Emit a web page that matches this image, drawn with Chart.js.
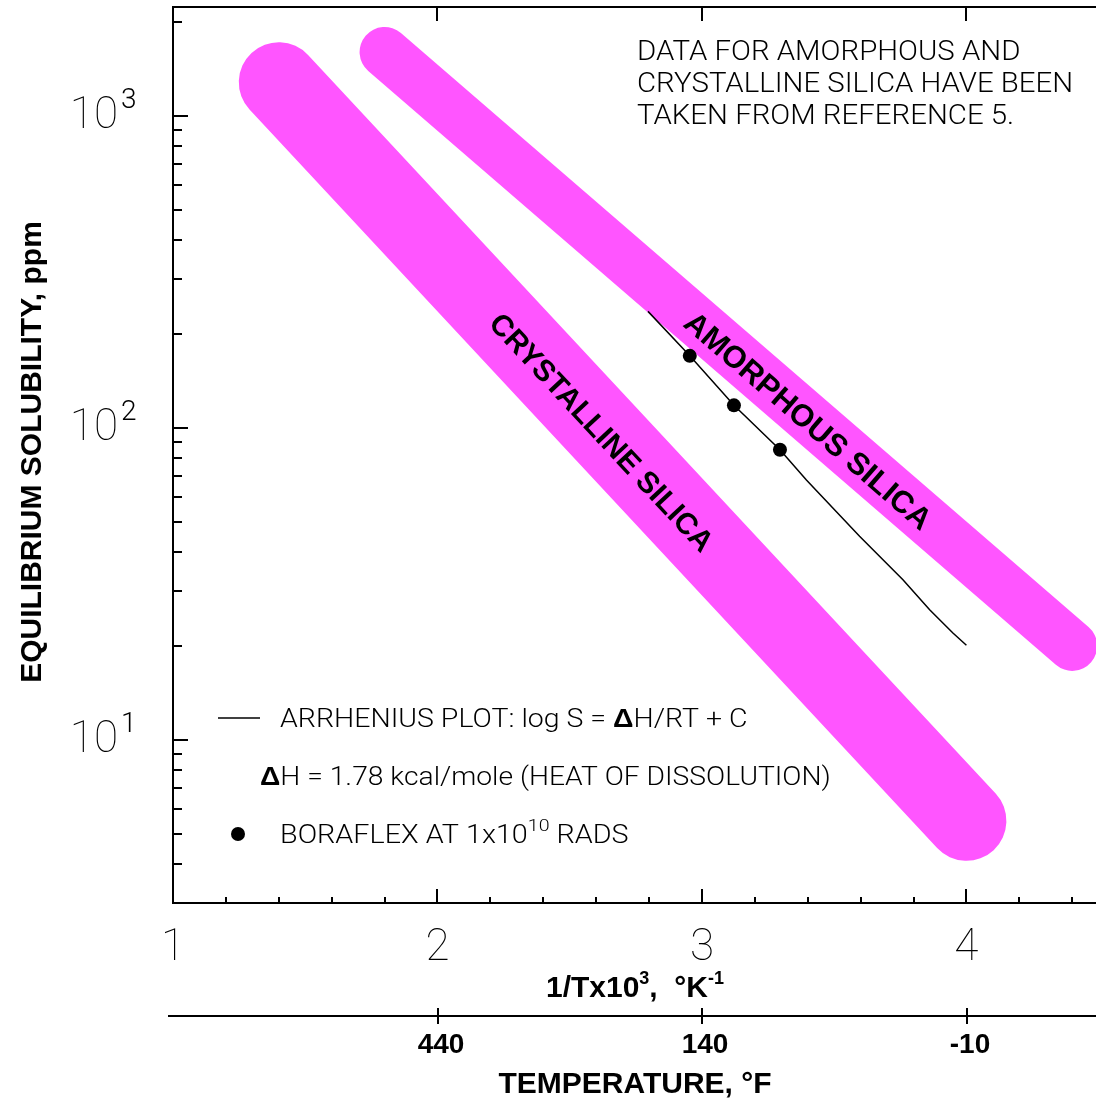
<!DOCTYPE html>
<html>
<head>
<meta charset="utf-8">
<script src="https://cdn.jsdelivr.net/npm/chart.js@4"></script>
<style>
  html, body { margin: 0; padding: 0; background: #fff; overflow: hidden; }
  #wrap { width: 1096px; height: 1099px; }
</style>
</head>
<body>
<div id="wrap"><canvas id="silicaChart" width="1096" height="1099"></canvas></div>
<script>
// Solubility bands, 1/T x 10^3 vs ppm (end points)
const crystallineX = [1.4, 4.0];
const crystallineY = [1280, 5.5];
const amorphousX = [1.8, 4.4];
const amorphousY = [1600, 20];

// Arrhenius line through the Boraflex data (hand drawn, slightly wavy)
const arrheniusX = [2.796, 2.954, 3.121, 3.295, 3.395, 3.596, 3.760, 3.861, 3.949, 4.0];
const arrheniusY = [236, 170, 118, 85, 68, 44.9, 32.6, 26.1, 22.0, 20.1];

// Boraflex measurements
const boraflexX = [2.954, 3.121, 3.295];
const boraflexY = [170, 118, 85];

// Axis ticks
const xMajorTicks = [1, 2, 3, 4];
const xMinorTicks = [1.2, 1.4, 1.6, 1.8, 2.2, 2.4, 2.6, 2.8, 3.2, 3.4, 3.6, 3.8, 4.2, 4.4];
const yMajorTicks = [10, 100, 1000];
const yMajorExponents = ['1', '2', '3'];
const yMinorTicks = [3, 4, 5, 6, 7, 8, 9, 20, 30, 40, 50, 60, 70, 80, 90,
    200, 300, 400, 500, 600, 700, 800, 900, 2000];
const tempTicksF = [440, 140, -10];

const BAND_COLOR = '#FF55FF';
const THIN = 'Roboto';
const BOLD = '"Liberation Sans", Arial, sans-serif';

function toPoints(xs, ys) {
    return xs.map((x, i) => ({ x: x, y: ys[i] }));
}

// degrees F -> 1/T x 10^3 (T in Kelvin)
function fahrenheitToInvK(f) {
    return 1000 / ((f - 32) * 5 / 9 + 273.15);
}

function line(ctx, x1, y1, x2, y2) {
    ctx.beginPath();
    ctx.moveTo(x1, y1);
    ctx.lineTo(x2, y2);
    ctx.stroke();
}

// draw a list of text runs one after another: {text, font, dy}
// sx stretches the text sideways (the original lettering is wide)
function drawRuns(ctx, runs, x, baseline, sx) {
    sx = sx || 1;
    ctx.save();
    ctx.translate(x, baseline);
    ctx.scale(sx, 1);
    ctx.textAlign = 'left';
    ctx.textBaseline = 'alphabetic';
    let cur = 0;
    runs.forEach(r => {
        ctx.font = r.font;
        ctx.fillText(r.text, cur, r.dy || 0);
        cur += ctx.measureText(r.text).width;
    });
    ctx.restore();
    return x + cur * sx;
}

function runsWidth(ctx, runs) {
    let w = 0;
    runs.forEach(r => { ctx.font = r.font; w += ctx.measureText(r.text).width; });
    return w;
}

// text rotated along a band, at fraction t between its two end points
function bandLabel(ctx, xs, ys, chart, text, t, offset, size) {
    const xScale = chart.scales.x, yScale = chart.scales.y;
    const x1 = xScale.getPixelForValue(xs[0]), y1 = yScale.getPixelForValue(ys[0]);
    const x2 = xScale.getPixelForValue(xs[1]), y2 = yScale.getPixelForValue(ys[1]);
    const ang = Math.atan2(y2 - y1, x2 - x1);
    const cx = x1 + (x2 - x1) * t - Math.sin(ang) * offset;
    const cy = y1 + (y2 - y1) * t + Math.cos(ang) * offset;
    ctx.save();
    ctx.translate(cx, cy);
    ctx.rotate(ang);
    ctx.font = 'bold ' + size + 'px ' + BOLD;
    ctx.textAlign = 'center';
    ctx.textBaseline = 'middle';
    ctx.fillStyle = '#000';
    ctx.fillText(text, 0, 0);
    ctx.restore();
}

const paperAxes = {
    id: 'paperAxes',
    afterDatasetsDraw(chart) {
        const ctx = chart.ctx;
        const area = chart.chartArea;
        const xScale = chart.scales.x;
        const yScale = chart.scales.y;

        ctx.save();
        ctx.strokeStyle = '#000';
        ctx.fillStyle = '#000';
        ctx.lineWidth = 2;

        // frame: left, top, bottom (no right edge)
        line(ctx, area.left, area.top, area.left, area.bottom);
        line(ctx, area.left - 1, area.top, area.right, area.top);
        line(ctx, area.left - 1, area.bottom, area.right, area.bottom);

        // y ticks point inwards
        yMajorTicks.forEach(v => {
            const y = Math.round(yScale.getPixelForValue(v));
            line(ctx, area.left, y, area.left + 15, y);
        });
        yMinorTicks.forEach(v => {
            const y = Math.round(yScale.getPixelForValue(v));
            line(ctx, area.left, y, area.left + 9, y);
        });

        // x ticks on the bottom and majors on the top
        xMajorTicks.forEach(v => {
            const x = Math.round(xScale.getPixelForValue(v));
            line(ctx, x, area.bottom, x, area.bottom - 14);
            line(ctx, x, area.top, x, area.top + 14);
        });
        xMinorTicks.forEach(v => {
            const x = Math.round(xScale.getPixelForValue(v));
            line(ctx, x, area.bottom, x, area.bottom - 6);
        });

        // y tick labels 10^n
        yMajorTicks.forEach((v, i) => {
            const y = yScale.getPixelForValue(v);
            ctx.font = '100 44px ' + THIN;
            ctx.textAlign = 'right';
            ctx.textBaseline = 'alphabetic';
            ctx.fillText('10', 118, y + 12);
            ctx.font = '300 28px ' + THIN;
            ctx.textAlign = 'left';
            ctx.fillText(yMajorExponents[i], 121, y - 8);
        });

        // x tick labels
        ctx.font = '100 44px ' + THIN;
        ctx.textAlign = 'center';
        xMajorTicks.forEach(v => {
            ctx.fillText(String(v), xScale.getPixelForValue(v), 960);
        });

        // x axis title
        const xTitle = [
            { text: '1/Tx10', font: 'bold 30px ' + BOLD },
            { text: '3', font: 'bold 18px ' + BOLD, dy: -13 },
            { text: ',  \u00B0K', font: 'bold 30px ' + BOLD },
            { text: '-1', font: 'bold 18px ' + BOLD, dy: -13 }
        ];
        drawRuns(ctx, xTitle, 635 - runsWidth(ctx, xTitle) / 2, 997);

        // second axis: temperature in F
        const axisY = 1016;
        line(ctx, 168, axisY, area.right, axisY);
        ctx.font = 'bold 28px ' + BOLD;
        ctx.textAlign = 'center';
        tempTicksF.forEach(f => {
            const x = Math.round(xScale.getPixelForValue(fahrenheitToInvK(f)));
            line(ctx, x, axisY - 8, x, axisY + 8);
            ctx.fillText(String(f), x + 3, 1053);
        });
        ctx.font = 'bold 30px ' + BOLD;
        ctx.fillText('TEMPERATURE, \u00B0F', 635, 1093);

        // y axis title
        ctx.save();
        ctx.translate(41, 452);
        ctx.rotate(-Math.PI / 2);
        ctx.font = 'bold 30px ' + BOLD;
        ctx.textAlign = 'center';
        ctx.fillText('EQUILIBRIUM SOLUBILITY, ppm', 0, 0);
        ctx.restore();

        // band labels
        bandLabel(ctx, crystallineX, crystallineY, chart, 'CRYSTALLINE SILICA', 0.472, 4, 30);
        bandLabel(ctx, amorphousX, amorphousY, chart, 'AMORPHOUS SILICA', 0.618, 4, 31);

        // note in the upper right
        const note = '300 28px ' + THIN;
        drawRuns(ctx, [{ text: 'DATA FOR AMORPHOUS AND', font: note }], 637, 60, 1.05);
        drawRuns(ctx, [{ text: 'CRYSTALLINE SILICA HAVE BEEN', font: note }], 637, 92, 1.05);
        drawRuns(ctx, [{ text: 'TAKEN FROM REFERENCE 5.', font: note }], 637, 124, 1.05);

        // legend
        ctx.lineWidth = 1.5;
        line(ctx, 218, 718, 260, 718);
        const thin = '300 25px ' + THIN;
        const bold = 'bold 25px ' + BOLD;
        drawRuns(ctx, [
            { text: 'ARRHENIUS PLOT: log S = ', font: thin },
            { text: '\u0394', font: bold },
            { text: 'H/RT + C', font: thin }
        ], 280, 727, 1.14);
        drawRuns(ctx, [
            { text: '\u0394', font: bold },
            { text: 'H = 1.78 kcal/mole (HEAT OF DISSOLUTION)', font: thin }
        ], 260, 785, 1.13);
        ctx.beginPath();
        ctx.arc(238, 834, 7, 0, Math.PI * 2);
        ctx.fill();
        drawRuns(ctx, [
            { text: 'BORAFLEX AT 1x10', font: thin },
            { text: '10', font: '300 17px ' + THIN, dy: -12 },
            { text: ' RADS', font: thin }
        ], 280, 843, 1.15);

        ctx.restore();
    }
};

document.addEventListener('DOMContentLoaded', function() {
    const canvas = document.getElementById('silicaChart');

    new Chart(canvas, {
        type: 'line',
        data: {
            datasets: [
                {
                    label: 'Boraflex',
                    data: toPoints(boraflexX, boraflexY),
                    showLine: false,
                    pointRadius: 7,
                    pointBackgroundColor: '#000',
                    pointBorderWidth: 0
                },
                {
                    label: 'Arrhenius plot',
                    data: toPoints(arrheniusX, arrheniusY),
                    borderColor: '#000',
                    borderWidth: 1.5,
                    pointRadius: 0
                },
                {
                    label: 'Amorphous silica',
                    data: toPoints(amorphousX, amorphousY),
                    borderColor: BAND_COLOR,
                    borderWidth: 50,
                    borderCapStyle: 'round',
                    pointRadius: 0,
                    clip: false
                },
                {
                    label: 'Crystalline silica',
                    data: toPoints(crystallineX, crystallineY),
                    borderColor: BAND_COLOR,
                    borderWidth: 80,
                    borderCapStyle: 'round',
                    pointRadius: 0,
                    clip: false
                }
            ]
        },
        options: {
            responsive: false,
            animation: false,
            layout: {
                autoPadding: false,
                padding: { left: 173, top: 7, right: 0, bottom: 196 }
            },
            plugins: {
                legend: { display: false },
                tooltip: { enabled: false }
            },
            scales: {
                x: { type: 'linear', min: 1, max: 4.49, display: false },
                y: { type: 'logarithmic', min: 3, max: 2230, display: false }
            }
        },
        plugins: [paperAxes]
    });
});
</script>
</body>
</html>
